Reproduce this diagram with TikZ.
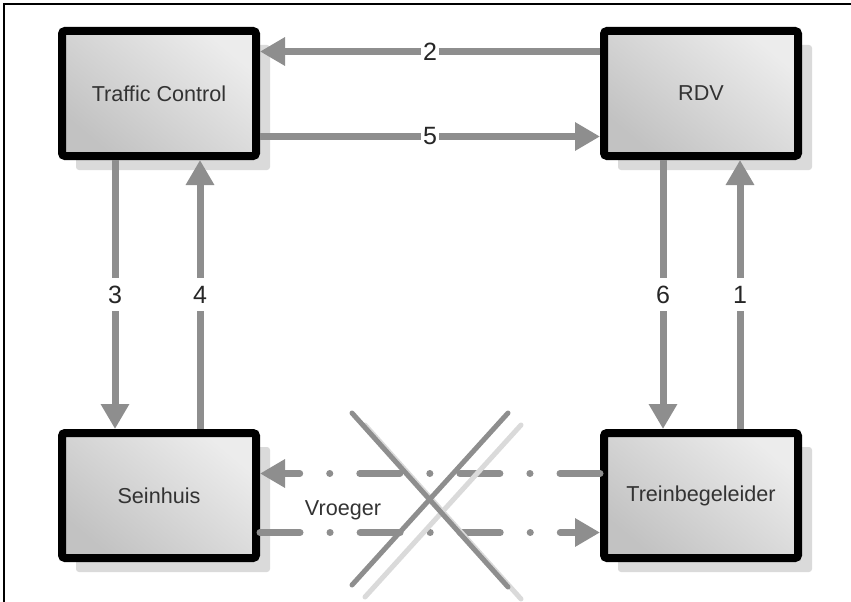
\documentclass[tikz,border=0pt]{standalone}
\usepackage{fontspec}
\setmainfont{Liberation Sans}
\usetikzlibrary{arrows.meta}
\usetikzlibrary{shadows}
\definecolor{flowgray}{RGB}{142,142,142}
\definecolor{boxlight}{RGB}{236,236,236}
\definecolor{boxdark}{RGB}{194,194,194}
\definecolor{shadowgray}{RGB}{218,218,218}

\begin{document}
\begin{tikzpicture}[x=1pt,y=-1pt]
\useasboundingbox (0,0) rectangle (851,602);
\draw[line width=2.5pt] (4,602) -- (4,4) -- (851,4);
\begin{scope}
	\tikzstyle{every node}=[align=center]
	\tikzstyle{actor}=[draw=black, line width=8pt, rounded corners=3pt, minimum width=194pt, minimum height=125pt, drop shadow={shadow xshift=14pt, shadow yshift=-14pt, fill=shadowgray, opacity=1}, top color=boxlight, bottom color=boxdark, shading angle=-40, text=black!80, font=\fontsize{21.6}{26}\selectfont]
	\tikzstyle{flow}=[draw=flowgray, line width=7pt, -{Triangle[length=25pt,width=27pt]}]
	\tikzstyle{oldflow}=[flow, line cap=round, dash pattern=on 40pt off 30pt on 0.1pt off 30pt]
	\tikzstyle{num}=[fill=white, inner xsep=2pt, inner ysep=8pt, text=black!85, font=\fontsize{25}{25}\selectfont]
	\tikzstyle{cross}=[draw=flowgray, line width=5pt, line cap=round]
	\node[actor] (tc) at (159,93.5) {Traffic Control};
	\node[actor] (rdv) at (701,93.5) {RDV};
	\node[actor] (sh) at (159,495.5) {Seinhuis};
	\node[actor] (tb) at (701,495.5) {Treinbegeleider};

	\draw[flow] ([yshift=42pt]rdv.west) -- node[num]{2} ([yshift=42pt]tc.east);
	\draw[flow] ([yshift=-43pt]tc.east) -- node[num]{5} ([yshift=-43pt]rdv.west);
	\draw[flow] ([xshift=-44pt]tc.south) -- node[num]{3} ([xshift=-44pt]sh.north);
	\draw[flow] ([xshift=41pt]sh.north) -- node[num]{4} ([xshift=41pt]tc.south);
	\draw[flow] ([xshift=-38pt]rdv.south) -- node[num]{6} ([xshift=-38pt]tb.north);
	\draw[flow] ([xshift=39pt]tb.north) -- node[num]{1} ([xshift=39pt]rdv.south);

	\draw[oldflow] ([yshift=22pt]tb.west) -- ([yshift=22pt]sh.east);
	\draw[oldflow] ([yshift=-37pt]sh.east) -- ([yshift=-37pt]tb.west);
	\node[text=black!80, font=\fontsize{21.6}{26}\selectfont] (old) at (343,510) {Vroeger};

	% crossed out
	\draw[cross, draw=shadowgray] (365,425) -- (521,599);
	\draw[cross, draw=shadowgray] (521,425) -- (365,597);
	\draw[cross] (352,413) -- (508,587);
	\draw[cross] (508,413) -- (352,585);
\end{scope}
\end{tikzpicture}
\end{document}
